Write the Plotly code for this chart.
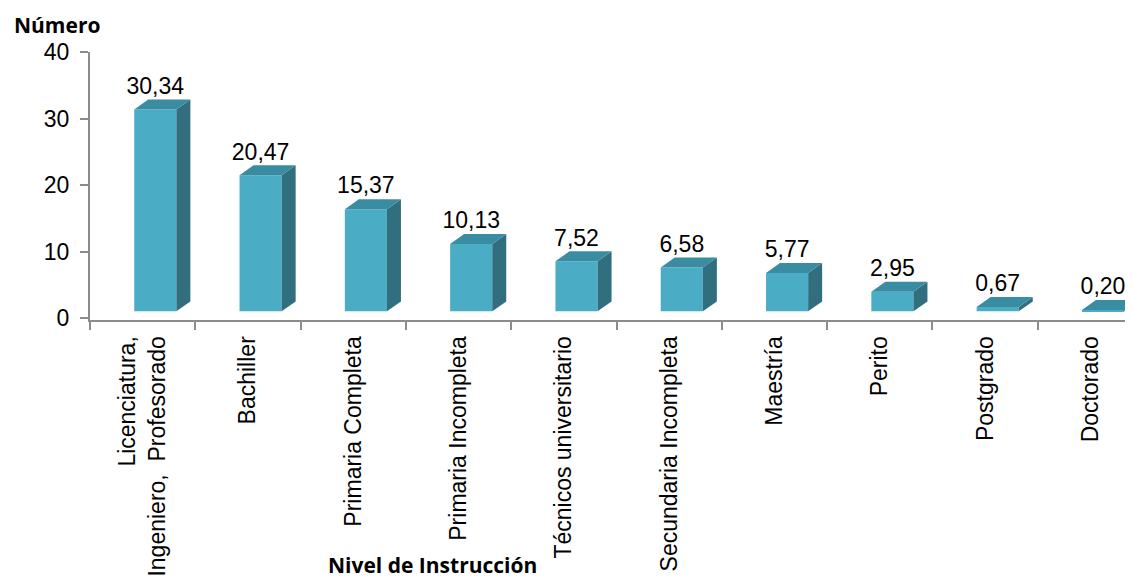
import plotly.graph_objects as go

categories = ["Licenciatura,<br>Ingeniero,  Profesorado", "Bachiller", "Primaria Completa",
              "Primaria Incompleta", "Técnicos universitario", "Secundaria Incompleta",
              "Maestría", "Perito", "Postgrado", "Doctorado"]
values = [30.34, 20.47, 15.37, 10.13, 7.52, 6.58, 5.77, 2.95, 0.67, 0.20]
value_labels = ["30,34", "20,47", "15,37", "10,13", "7,52", "6,58", "5,77", "2,95", "0,67", "0,20"]
y_ticks = [0, 10, 20, 30, 40]

# 3D look parameters (in data units)
BASE = 1.0      # floor raise of the bars
OFF = -0.08     # left edge of front face relative to category center
W = 0.40        # front face width
DX = 0.133      # depth in x
DY = 1.5        # depth in y

FRONT = "#4BACC6"
SIDE = "#316E7E"
TOP = "#3A8CA2"
AXIS = "#8C8C8C"

# page body has an 8px margin: compensate so the plot lands where the reference has it
PAD = 8
W_FIG, H_FIG = 1133, 580
ML, MT = 90 - PAD, 52 - PAD
MR = PAD
MB = H_FIG - (320 - PAD)

xs = list(range(len(categories)))
fig = go.Figure()

fig.add_trace(go.Bar(x=xs, y=values, base=[BASE] * len(values), width=W, offset=OFF,
                     marker=dict(color=FRONT, line=dict(width=0)), showlegend=False,
                     hoverinfo="skip"))

for i, v in zip(xs, values):
    l = i + OFF
    r = l + W
    b = BASE
    t = BASE + v
    fig.add_trace(go.Scatter(x=[r, r + DX, r + DX, r, r], y=[b, b + DY, t + DY, t, b],
                             mode="lines", fill="toself", fillcolor=SIDE,
                             line=dict(width=0, color=SIDE), showlegend=False, hoverinfo="skip"))
    fig.add_trace(go.Scatter(x=[l, r, r + DX, l + DX, l], y=[t, t, t + DY, t + DY, t],
                             mode="lines", fill="toself", fillcolor=TOP,
                             line=dict(width=0, color=TOP), showlegend=False, hoverinfo="skip"))

fig.add_trace(go.Scatter(x=[i + OFF + W / 2 for i in xs], y=[BASE + v + DY for v in values],
                         mode="text", text=value_labels, textposition="top center",
                         textfont=dict(family="Liberation Sans, Arial", size=23, color="black"),
                         showlegend=False, hoverinfo="skip"))

plot_w = W_FIG - ML - MR
plot_h = H_FIG - MT - MB

fig.update_layout(
    width=W_FIG, height=H_FIG,
    margin=dict(l=ML, r=MR, t=MT, b=MB, autoexpand=False),
    plot_bgcolor="white", paper_bgcolor="white",
    font=dict(family="Liberation Sans, Arial", size=22, color="black"),
    xaxis=dict(range=[-0.5, 9.405], tickmode="array", tickvals=xs, ticktext=categories,
               tickangle=-90, ticks="", showline=True, linecolor=AXIS, linewidth=2,
               showgrid=False, zeroline=False, automargin=False, ticklabelstandoff=5,
               tickfont=dict(size=23),
               minor=dict(tickmode="array", tickvals=[x - 0.5 for x in range(11)],
                          ticks="outside", ticklen=8, tickcolor=AXIS, tickwidth=2, showgrid=False)),
    yaxis=dict(range=[-0.3, 40], tickmode="array", tickvals=y_ticks, ticks="outside",
               ticklen=8, tickcolor=AXIS, tickwidth=2, showline=True, linecolor=AXIS,
               linewidth=2, showgrid=False, zeroline=False, automargin=False,
               ticklabelstandoff=6, tickfont=dict(size=23)),
    annotations=[
        dict(text="<b>Número</b>", xref="paper", yref="paper", showarrow=False,
             x=(12 - PAD - ML) / plot_w, y=(H_FIG - MB - (25 - PAD)) / plot_h,
             xanchor="left", yanchor="middle",
             font=dict(family="Open Sans", size=21, color="black")),
        dict(text="<b>Nivel de Instrucción</b>", xref="paper", yref="paper", showarrow=False,
             x=(432 - PAD - ML) / plot_w, y=(H_FIG - MB - (565 - PAD)) / plot_h,
             xanchor="center", yanchor="middle",
             font=dict(family="Open Sans", size=21, color="black")),
    ],
)

fig.write_html("out.html")
